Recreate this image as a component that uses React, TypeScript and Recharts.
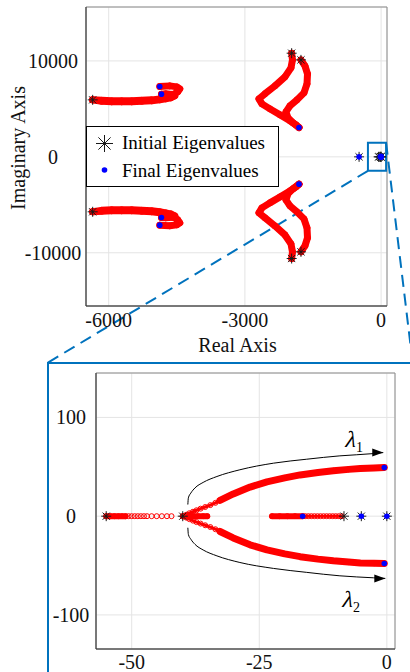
import { ScatterChart, Scatter, XAxis, YAxis, CartesianGrid, ReferenceArea, ReferenceLine } from 'recharts';

const RED = '#ff0000';
const BLUE = '#0000ff';
const STAR = '#1a1a1a';
const ZOOM_BLUE = '#0072bd';
const FONT = '"Liberation Serif", "Times New Roman", serif';

const pts = (rows: number[][]) => rows.map(([x, y]) => ({ x, y }));

// ---- main view (whole spectrum) ----
const mainXTicks = [-6000, -3000, 0];
const mainYTicks = [-10000, 0, 10000];
const mainXDomain = [-6500, 130];
const mainYDomain = [-15550, 15620];

const upperLeftA = pts([[-6353, 5940], [-6155, 5887], [-5934, 5835], [-5714, 5835], [-5493, 5835], [-5273, 5887], [-5052, 5940], [-4875, 6044], [-4721, 6200], [-4589, 6460], [-4478, 6773], [-4434, 7086], [-4500, 7294], [-4655, 7398], [-4875, 7325]]);
const upperLeftB = pts([[-6353, 5940], [-6155, 5783], [-5934, 5731], [-5714, 5731], [-5493, 5731], [-5273, 5783], [-5052, 5835], [-4875, 5940], [-4743, 6044], [-4633, 6148], [-4544, 6356], [-4611, 6512], [-4743, 6565], [-4838, 6533]]);
const lowerLeftA = pts([[-6353, -5730], [-6155, -5680], [-5934, -5630], [-5714, -5630], [-5493, -5630], [-5273, -5680], [-5052, -5730], [-4875, -5840], [-4721, -5990], [-4589, -6250], [-4478, -6570], [-4434, -6880], [-4500, -7090], [-4655, -7190], [-4875, -7120]]);
const lowerLeftB = pts([[-6353, -5730], [-6155, -5580], [-5934, -5520], [-5714, -5520], [-5493, -5520], [-5273, -5580], [-5052, -5630], [-4875, -5730], [-4743, -5840], [-4633, -5940], [-4544, -6150], [-4611, -6300], [-4743, -6360], [-4838, -6330]]);

const upperMidC = pts([[-1970, 10805], [-1952, 10107], [-1985, 9274], [-2118, 8336], [-2338, 7398], [-2559, 6565], [-2691, 6044], [-2625, 5523], [-2449, 5002], [-2228, 4377], [-2008, 3751], [-1875, 3334], [-1809, 3053]]);
const upperMidD = pts([[-1765, 10107], [-1677, 9482], [-1621, 8649], [-1632, 7607], [-1699, 6669], [-1853, 5940], [-2008, 5314], [-2096, 4689], [-2052, 4064], [-1941, 3543], [-1809, 3053]]);
const lowerMidC = pts([[-1970, -10600], [-1952, -9900], [-1985, -9070], [-2118, -8140], [-2338, -7200], [-2559, -6360], [-2691, -5840], [-2625, -5320], [-2449, -4800], [-2228, -4180], [-2008, -3550], [-1875, -3130], [-1809, -2850]]);
const lowerMidD = pts([[-1765, -9900], [-1677, -9280], [-1621, -8450], [-1632, -7410], [-1699, -6470], [-1853, -5740], [-2008, -5110], [-2096, -4490], [-2052, -3860], [-1941, -3340], [-1809, -2850]]);

const mainInitial = pts([[-6353, 5940], [-6353, -5730], [-1970, 10805], [-1765, 10107], [-1970, -10600], [-1765, -9900], [-485, 0], [-55, 0], [-40, 0], [-8.4, 0], [-5, 0], [0, 0]]);
const mainFinal = pts([[-4875, 7325], [-4838, 6533], [-4875, -7120], [-4838, -6330], [-1809, 3053], [-1809, -2850], [-485, 0], [-16.5, 0], [-5, 0], [0, 0], [-0.5, 49.3], [-0.5, -47.9]]);

// zoom window drawn on the main view, and the two connector lines
const zoomBox = { x1: -290, x2: 110, y1: -1460, y2: 1460 };
const connectorLeft = pts([[-290, -1460], [-7346, -21465]]);
const connectorRight = pts([[110, 1460], [695, -21465]]);

// ---- zoomed view (near the origin) ----
const zoomXTicks = [-50, -25, 0];
const zoomYTicks = [-100, 0, 100];
const zoomXDomain = [-57, 1.6];
const zoomYDomain = [-134.5, 145];

const farDense = pts([[-55, 0], [-54.2, 0], [-53.4, 0], [-52.6, 0], [-51.9, 0], [-51.2, 0]]);
const farSparse = pts([[-50.6, 0], [-50.0, 0], [-49.4, 0], [-48.8, 0], [-48.2, 0], [-47.6, 0], [-47.0, 0], [-46.1, 0], [-45.1, 0], [-44.1, 0], [-43.1, 0], [-42.2, 0]]);
const splitStub = pts([[-40, 0], [-39, 0], [-38, 0], [-37, 0], [-36, 0], [-35.2, 0]]);
const lambda1Sparse = pts([[-39.9, 0], [-39.3, 1.5], [-38.7, 3], [-38, 4.5], [-37.3, 6], [-36.5, 7.6], [-35.6, 9.3], [-34.6, 11.2], [-33.6, 13.5], [-32.7, 16]]);
const lambda1Dense = pts([[-32.7, 16], [-30.1, 22.5], [-26.8, 29.5], [-23.5, 34.8], [-20, 38.8], [-17, 41.8], [-13.5, 44.3], [-10.5, 46], [-7.5, 47.4], [-5.2, 48.3], [-2.5, 48.9], [-0.5, 49.3]]);
const lambda2Sparse = pts([[-39.9, 0], [-39.3, -1.5], [-38.7, -3], [-38, -4.5], [-37.3, -6], [-36.5, -7.5], [-35.6, -9.2], [-34.6, -11], [-33.6, -13.2], [-32.7, -15.5]]);
const lambda2Dense = pts([[-32.7, -15.5], [-30.1, -22], [-26.8, -29], [-23.5, -34.2], [-20, -38.2], [-17, -41], [-13.5, -43.5], [-10.5, -45.2], [-7.5, -46.5], [-5.2, -47.3], [-2.5, -47.7], [-0.5, -47.9]]);
const nearDense = pts([[-22.5, 0], [-21, 0], [-19.5, 0], [-18, 0], [-16.5, 0]]);
const nearSparse = pts([[-16.0, 0], [-15.4, 0], [-14.8, 0], [-14.2, 0], [-13.6, 0], [-13.0, 0], [-12.4, 0], [-11.8, 0], [-11.2, 0], [-10.6, 0], [-10.0, 0], [-9.4, 0], [-8.8, 0]]);

const zoomInitial = pts([[-55, 0], [-40, 0], [-8.4, 0], [-5, 0], [0, 0]]);
const zoomFinal = pts([[-16.5, 0], [-5, 0], [0, 0], [-0.5, 49.3], [-0.5, -47.9]]);

const arrowUp = pts([[-39.0, 11.8], [-38.9, 18.5], [-38.4, 23.5], [-37.6, 28.6], [-36.0, 34.2], [-33.3, 40.2], [-28.8, 47.0], [-22.2, 53.7], [-15.7, 57.7], [-9.2, 61.1], [-2.6, 63.4], [-0.7, 64.4]]);
const arrowDown = pts([[-39.0, -11.7], [-38.9, -18.4], [-38.4, -23.4], [-37.6, -28.5], [-36.0, -34.2], [-33.3, -40.2], [-28.8, -46.9], [-22.2, -52.9], [-15.7, -56.9], [-9.2, -60.4], [-2.6, -62.4], [-0.3, -63.0]]);
const lambdaLabels = [
  { x: -8.4, y: 70, sub: '1' },
  { x: -9.0, y: -92, sub: '2' },
];

// ---- marks ----
const openCircle = (r: number) => (p: any) =>
  <circle cx={p.cx} cy={p.cy} r={r} fill="none" stroke={RED} strokeWidth={1} />;

const StarMark = ({ cx, cy, r = 4.5 }: any) => {
  const d = r * 0.72;
  return (
    <g stroke={STAR} strokeWidth={1}>
      <line x1={cx - r} y1={cy} x2={cx + r} y2={cy} />
      <line x1={cx} y1={cy - r} x2={cx} y2={cy + r} />
      <line x1={cx - d} y1={cy - d} x2={cx + d} y2={cy + d} />
      <line x1={cx - d} y1={cy + d} x2={cx + d} y2={cy - d} />
    </g>
  );
};

const blueDot = (p: any) => <circle cx={p.cx} cy={p.cy} r={2.8} fill={BLUE} />;

const arrowHead = (data: { x: number; y: number }[]) => (p: any) => {
  const last = data[data.length - 1];
  const isLast = p.payload ? p.payload.x === last.x && p.payload.y === last.y : p.index === data.length - 1;
  if (!isLast) return <g />;
  return <polygon points={`${p.cx},${p.cy} ${p.cx - 11},${p.cy - 4} ${p.cx - 11},${p.cy + 4}`} fill="#000" />;
};

// slanted lambda with a subscript, like the math labels in the figure
const lambdaText = (p: any) => (
  <g transform={`translate(${p.cx},${p.cy})`}>
    <text x={0} y={0} transform="skewX(-14)" fontFamily={FONT} fontSize={23} fill="#000">λ</text>
    <text x={12} y={5} fontFamily={FONT} fontSize={14} fill="#000">{p.payload?.sub}</text>
  </g>
);

const band = (data: any[], key: string, r: number, w = 6) => (
  <Scatter
    key={key}
    data={data}
    isAnimationActive={false}
    line={{ stroke: RED, strokeWidth: w, strokeLinejoin: 'round', strokeLinecap: 'round' }}
    lineJointType="linear"
    shape={openCircle(r)}
  />
);
const sparse = (data: any[], key: string, r: number) => (
  <Scatter key={key} data={data} isAnimationActive={false} shape={openCircle(r)} />
);

const tickFont = { fontFamily: FONT, fontSize: 20, fill: '#111' };
const XTick = (p: any) => (
  <text x={p.x} y={p.y} dy="0.71em" textAnchor="middle" {...tickFont}>{p.payload.value}</text>
);
const YTick = (p: any) => (
  <text x={p.x} y={p.y} dy="0.35em" textAnchor="middle" {...tickFont}>{p.payload.value}</text>
);

function MainView() {
  return (
    <ScatterChart width={410} height={370} margin={{ top: 7, right: 23, bottom: 34, left: 26 }}>
      <CartesianGrid stroke="#e4e4e4" />
      <XAxis type="number" dataKey="x" domain={mainXDomain} ticks={mainXTicks} allowDataOverflow interval={0}
        height={30} tickSize={0} tickMargin={7} tickLine={false} axisLine={{ stroke: '#333' }} tick={XTick} />
      <YAxis type="number" dataKey="y" domain={mainYDomain} ticks={mainYTicks} allowDataOverflow interval={0}
        width={60} tickSize={0} tickMargin={33} tickLine={false} axisLine={{ stroke: '#333' }} tick={YTick} />
      <ReferenceArea x1={mainXDomain[0]} x2={mainXDomain[1]} y1={mainYDomain[0]} y2={mainYDomain[1]}
        fill="none" stroke="#8c8c8c" ifOverflow="visible" />
      {band(upperLeftA, 'ulA', 3, 7)}
      {band(upperLeftB, 'ulB', 3, 7)}
      {band(lowerLeftA, 'llA', 3, 7)}
      {band(lowerLeftB, 'llB', 3, 7)}
      {band(upperMidC, 'umC', 3, 7)}
      {band(upperMidD, 'umD', 3, 7)}
      {band(lowerMidC, 'lmC', 3, 7)}
      {band(lowerMidD, 'lmD', 3, 7)}
      <Scatter data={mainInitial} isAnimationActive={false} shape={(p: any) => <StarMark cx={p.cx} cy={p.cy} r={5} />} />
      <Scatter data={mainFinal} isAnimationActive={false} shape={blueDot} />
      <ReferenceArea {...zoomBox} fill="none" stroke={ZOOM_BLUE} strokeWidth={2} ifOverflow="visible" />
      <ReferenceLine segment={connectorLeft} stroke={ZOOM_BLUE} strokeWidth={2} strokeDasharray="12 7" ifOverflow="visible" />
      <ReferenceLine segment={connectorRight} stroke={ZOOM_BLUE} strokeWidth={2} strokeDasharray="12 7" ifOverflow="visible" />
    </ScatterChart>
  );
}

function ZoomView() {
  return (
    <ScatterChart width={410} height={342} margin={{ top: 43, right: 15, bottom: 3, left: 36 }}>
      <CartesianGrid stroke="#e4e4e4" />
      <XAxis type="number" dataKey="x" domain={zoomXDomain} ticks={zoomXTicks} allowDataOverflow interval={0}
        height={20} tickSize={0} tickMargin={6} tickLine={false} axisLine={{ stroke: '#333' }} tick={XTick} />
      <YAxis type="number" dataKey="y" domain={zoomYDomain} ticks={zoomYTicks} allowDataOverflow interval={0}
        width={60} tickSize={0} tickMargin={25} tickLine={false} axisLine={{ stroke: '#333' }} tick={YTick} />
      <ReferenceArea x1={zoomXDomain[0]} x2={zoomXDomain[1]} y1={zoomYDomain[0]} y2={zoomYDomain[1]}
        fill="none" stroke="#8c8c8c" ifOverflow="visible" />
      {band(farDense, 'farD', 2.5)}
      {sparse(farSparse, 'farS', 2.5)}
      {band(splitStub, 'stub', 2.5)}
      {band(lambda1Sparse, 'l1S', 2.5, 3)}
      {band(lambda1Dense, 'l1D', 2.5, 7)}
      {band(lambda2Sparse, 'l2S', 2.5, 3)}
      {band(lambda2Dense, 'l2D', 2.5, 7)}
      {band(nearDense, 'nearD', 2.5)}
      {band(nearSparse, 'nearS', 2.5, 3)}
      <Scatter data={zoomInitial} isAnimationActive={false} shape={(p: any) => <StarMark cx={p.cx} cy={p.cy} r={5} />} />
      <Scatter data={zoomFinal} isAnimationActive={false} shape={blueDot} />
      <Scatter data={arrowUp} isAnimationActive={false} line={{ stroke: '#000', strokeWidth: 1 }}
        lineJointType="monotoneX" shape={arrowHead(arrowUp)} />
      <Scatter data={arrowDown} isAnimationActive={false} line={{ stroke: '#000', strokeWidth: 1 }}
        lineJointType="monotoneX" shape={arrowHead(arrowDown)} />
      <Scatter data={lambdaLabels} isAnimationActive={false} shape={lambdaText} />
    </ScatterChart>
  );
}

function LegendBox() {
  return (
    <svg width={193} height={61} style={{ position: 'absolute', left: 86, top: 126 }}>
      <rect x={0.5} y={0.5} width={192} height={60} fill="#fff" stroke="#000" />
      <StarMark cx={18.5} cy={17.5} r={8.5} />
      <text x={36} y={23} fontFamily={FONT} fontSize={19} fill="#000">Initial Eigenvalues</text>
      <circle cx={18.5} cy={44} r={2.8} fill={BLUE} />
      <text x={36} y={51} fontFamily={FONT} fontSize={19} fill="#000">Final Eigenvalues</text>
    </svg>
  );
}

export default function App() {
  return (
    <div style={{ position: 'absolute', left: 0, top: 0, width: 410, height: 672, overflow: 'hidden', background: '#fff', fontFamily: FONT }}>
      <div style={{ position: 'absolute', left: 47, top: 362, width: 420, height: 340, borderLeft: `2px solid ${ZOOM_BLUE}`, borderTop: `2px solid ${ZOOM_BLUE}` }} />
      <div style={{ position: 'absolute', left: 0, top: 0 }}>
        <MainView />
      </div>
      <div style={{ position: 'absolute', left: 0, top: 330 }}>
        <ZoomView />
      </div>
      <LegendBox />
      <div style={{ position: 'absolute', left: 237.5, top: 334.5, transform: 'translateX(-50%)', fontSize: 20, lineHeight: 1, whiteSpace: 'nowrap', color: '#111' }}>
        Real Axis
      </div>
      <div style={{ position: 'absolute', left: 18, top: 148, transform: 'translate(-50%, -50%) rotate(-90deg)', fontSize: 20, lineHeight: 1, whiteSpace: 'nowrap', color: '#111' }}>
        Imaginary Axis
      </div>
    </div>
  );
}
